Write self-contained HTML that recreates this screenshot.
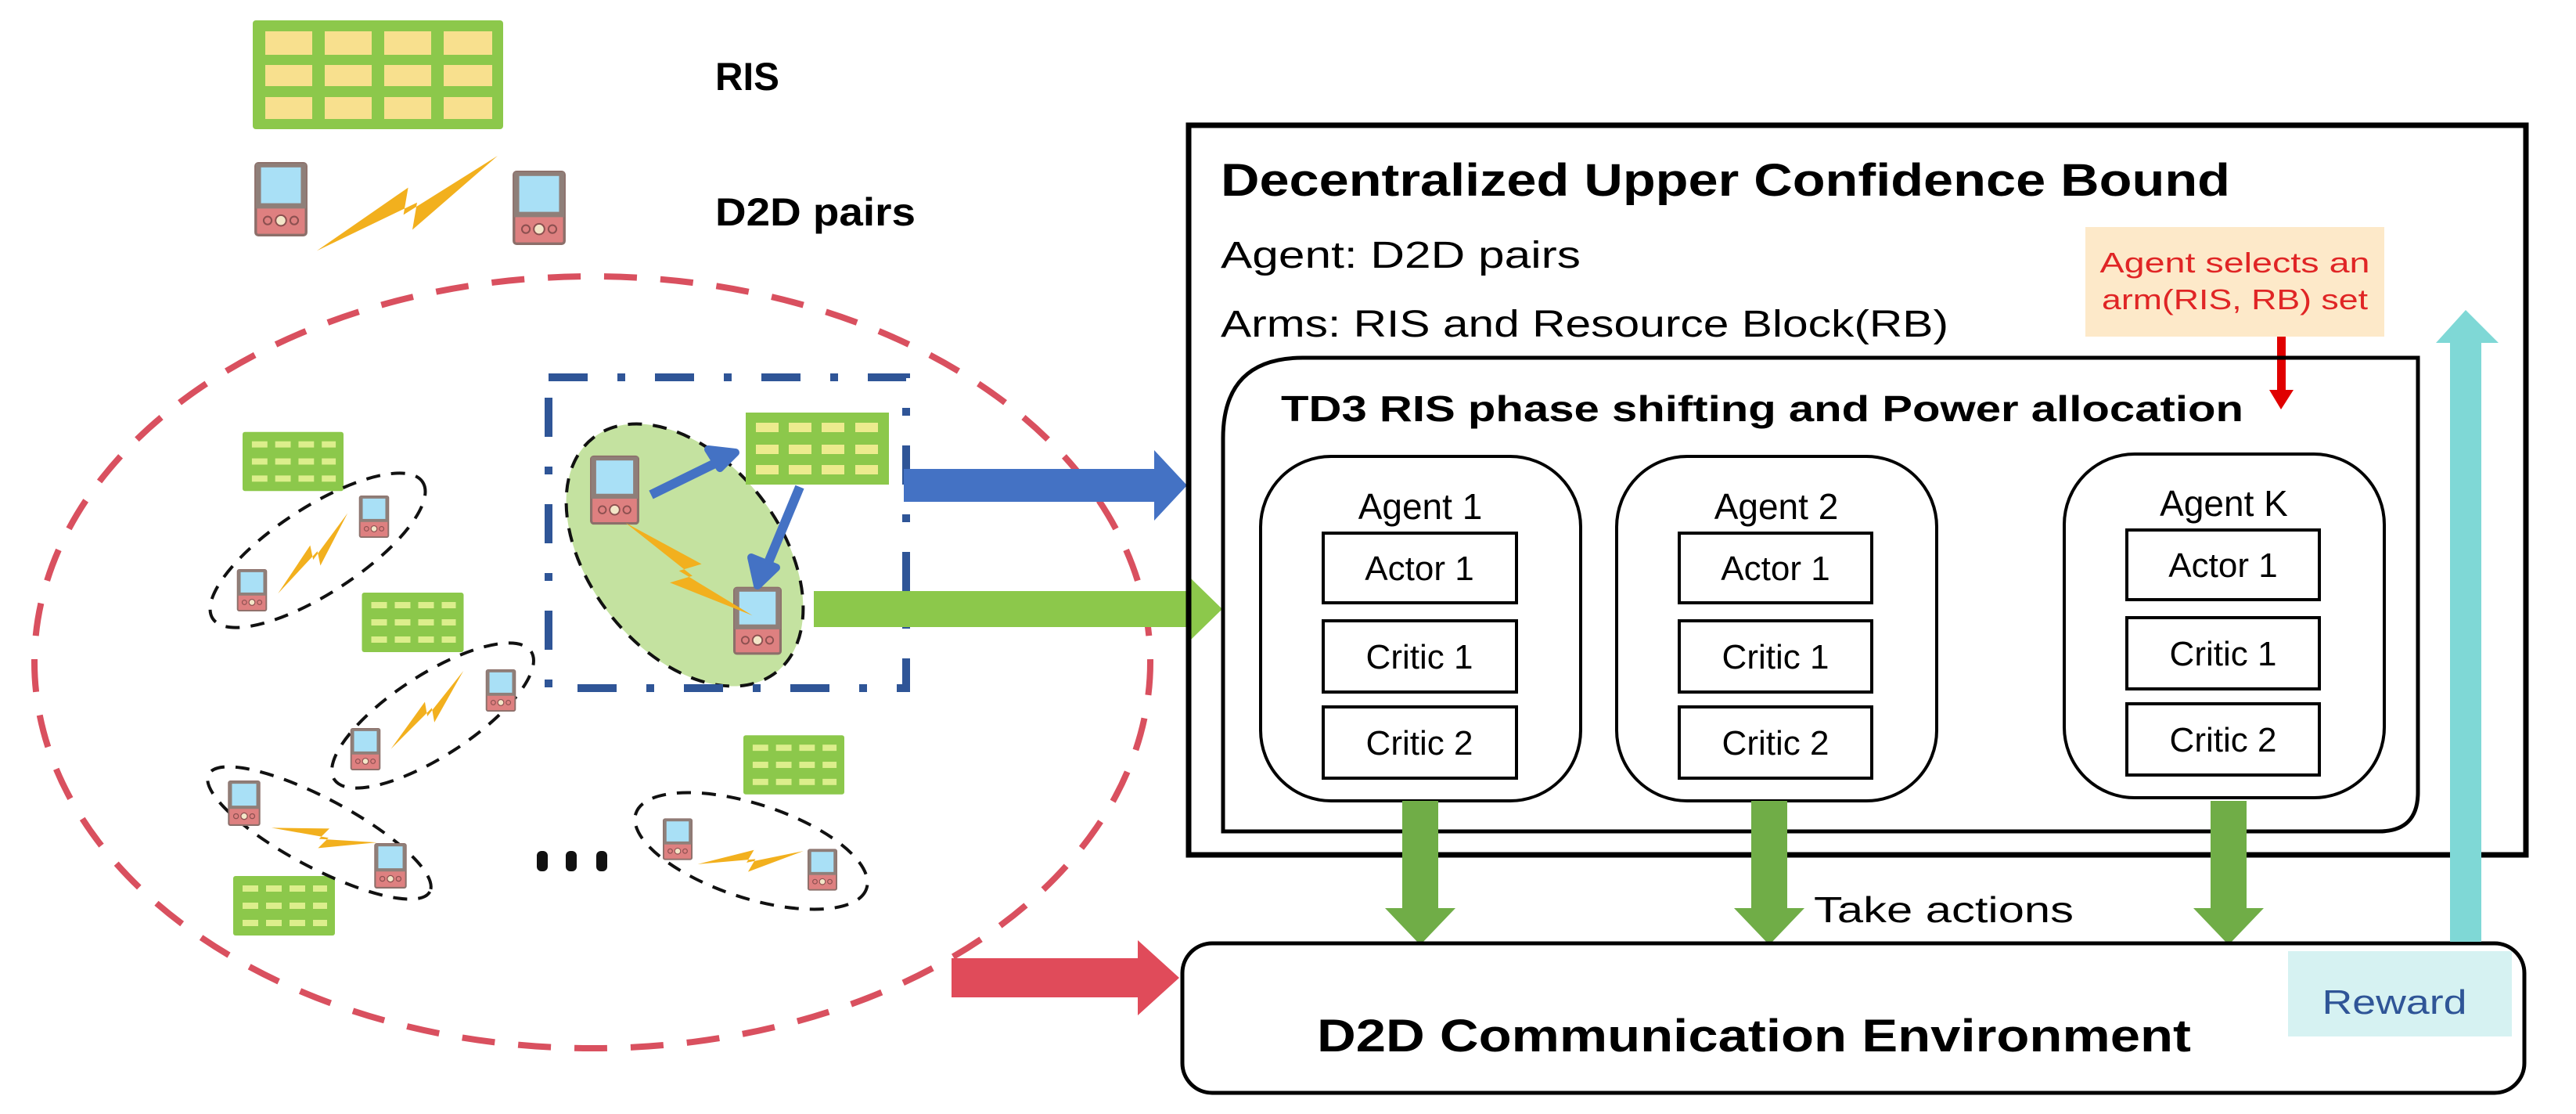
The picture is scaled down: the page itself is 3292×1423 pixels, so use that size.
<!DOCTYPE html>
<html><head><meta charset="utf-8"><style>
html,body{margin:0;padding:0;background:#fff;}
svg{display:block;}
text{font-family:"Liberation Sans",sans-serif;}
</style></head><body>
<svg width="3292" height="1423" viewBox="0 0 3292 1423" xmlns="http://www.w3.org/2000/svg">
<defs>
<symbol id="ph" viewBox="0 0 40 56">
<rect x="1" y="1" width="38" height="54" rx="2" fill="#de8080" stroke="#8c6f6a" stroke-width="2"/>
<rect x="1" y="1" width="38" height="34" fill="#8f7f79"/>
<rect x="5" y="4" width="30" height="27" fill="#a9e0f6"/>
<circle cx="20" cy="44" r="4" fill="#f3e6c8" stroke="#8c5050" stroke-width="1.2"/>
<circle cx="10" cy="44" r="3" fill="none" stroke="#8c5050" stroke-width="1.2"/>
<circle cx="30" cy="44" r="3" fill="none" stroke="#8c5050" stroke-width="1.2"/>
</symbol>
<symbol id="risS" viewBox="0 0 130 76">
<rect x="0" y="0" width="130" height="76" rx="3" fill="#8cc84b"/>
<g fill="#dcee8c">
<rect x="12" y="12" width="20" height="8"/><rect x="42" y="12" width="20" height="8"/><rect x="72" y="12" width="20" height="8"/><rect x="102" y="12" width="18" height="8"/>
<rect x="12" y="34" width="20" height="8"/><rect x="42" y="34" width="20" height="8"/><rect x="72" y="34" width="20" height="8"/><rect x="102" y="34" width="18" height="8"/>
<rect x="12" y="56" width="20" height="8"/><rect x="42" y="56" width="20" height="8"/><rect x="72" y="56" width="20" height="8"/><rect x="102" y="56" width="18" height="8"/>
</g>
</symbol>
<polygon id="bolt" points="0,12 52,-7 47,4 100,-13 50,11 55,0" fill="#f2b01e"/>
</defs>

<!-- legend -->
<rect x="323" y="26" width="320" height="139" rx="4" fill="#8cc84b"/>
<g fill="#f8e08e">
<rect x="339" y="40" width="60" height="30"/><rect x="415" y="40" width="60" height="30"/><rect x="491" y="40" width="60" height="30"/><rect x="567" y="40" width="62" height="30"/>
<rect x="339" y="83" width="60" height="27"/><rect x="415" y="83" width="60" height="27"/><rect x="491" y="83" width="60" height="27"/><rect x="567" y="83" width="62" height="27"/>
<rect x="339" y="124" width="60" height="28"/><rect x="415" y="124" width="60" height="28"/><rect x="491" y="124" width="60" height="28"/><rect x="567" y="124" width="62" height="28"/>
</g>
<text x="914" y="115" font-size="50" font-weight="bold" textLength="82" lengthAdjust="spacingAndGlyphs">RIS</text>
<use href="#ph" x="323" y="207" width="72" height="95"/>
<use href="#ph" x="653" y="218" width="72" height="95"/>
<use href="#bolt" transform="translate(398,285) rotate(-11) scale(2.5,3)"/>
<text x="914" y="288" font-size="50" font-weight="bold" textLength="256" lengthAdjust="spacingAndGlyphs">D2D pairs</text>

<!-- red dashed ellipse -->
<ellipse cx="757" cy="846" rx="713" ry="493" fill="none" stroke="#d9505f" stroke-width="8" stroke-dasharray="42,30"/>

<!-- small RIS -->
<use href="#risS" x="310" y="551" width="129" height="77"/>
<use href="#risS" x="462" y="757" width="131" height="76"/>
<use href="#risS" x="950" y="939" width="129" height="76"/>
<use href="#risS" x="298" y="1119" width="130" height="76"/>

<!-- small pairs -->
<g fill="none" stroke="#111" stroke-width="4" stroke-dasharray="18,14">
<ellipse cx="406" cy="703" rx="160" ry="55" transform="rotate(-33 406 703)"/>
<ellipse cx="553" cy="914" rx="150" ry="52" transform="rotate(-33 553 914)"/>
<ellipse cx="408" cy="1064" rx="160" ry="44" transform="rotate(28 408 1064)"/>
<ellipse cx="960" cy="1087" rx="155" ry="60" transform="rotate(18 960 1087)"/>
</g>
<use href="#ph" x="302" y="727" width="40" height="54"/>
<use href="#ph" x="458" y="633" width="40" height="54"/>
<use href="#bolt" transform="translate(345,742) rotate(-32) scale(1.3,1.6)"/>
<use href="#ph" x="447" y="930" width="40" height="54"/>
<use href="#ph" x="620" y="855" width="40" height="54"/>
<use href="#bolt" transform="translate(490,940) rotate(-30) scale(1.3,1.6)"/>
<use href="#ph" x="291" y="997" width="42" height="58"/>
<use href="#ph" x="477" y="1077" width="44" height="58"/>
<use href="#bolt" transform="translate(355,1040) rotate(25) scale(1.3,1.6)"/>
<use href="#ph" x="847" y="1043" width="38" height="58"/>
<use href="#ph" x="1032" y="1082" width="38" height="58"/>
<use href="#bolt" transform="translate(895,1085) rotate(10) scale(1.3,1.6)"/>
<g fill="#111"><rect x="686" y="1087" width="14" height="26" rx="6"/><rect x="723" y="1087" width="14" height="26" rx="6"/><rect x="762" y="1087" width="14" height="26" rx="6"/></g>

<!-- highlighted pair -->
<ellipse cx="875" cy="709" rx="190" ry="122" transform="rotate(52 875 709)" fill="#c4e2a0" stroke="#111" stroke-width="4" stroke-dasharray="18,14"/>
<rect x="953" y="527" width="183" height="92" fill="#8cc84b"/>
<g fill="#eceb8e">
<rect x="966" y="540" width="29" height="12"/><rect x="1008" y="540" width="29" height="12"/><rect x="1050" y="540" width="29" height="12"/><rect x="1093" y="540" width="29" height="12"/>
<rect x="966" y="568" width="29" height="12"/><rect x="1008" y="568" width="29" height="12"/><rect x="1050" y="568" width="29" height="12"/><rect x="1093" y="568" width="29" height="12"/>
<rect x="966" y="594" width="29" height="12"/><rect x="1008" y="594" width="29" height="12"/><rect x="1050" y="594" width="29" height="12"/><rect x="1093" y="594" width="29" height="12"/>
</g>
<use href="#ph" x="754" y="578" width="63" height="96"/>
<use href="#ph" x="937" y="748" width="62" height="90"/>
<use href="#bolt" transform="translate(825,650) rotate(55) scale(1.9,2.6)"/>
<g stroke="#4472c4" stroke-width="12" fill="#4472c4">
<line x1="832" y1="632" x2="930" y2="584"/>
<line x1="1022" y1="622" x2="973" y2="740"/>
</g>
<polygon points="940,578 905,574 920,598" fill="#4472c4" stroke="#4472c4" stroke-width="10" stroke-linejoin="round"/>
<polygon points="968,748 960,712 992,725" fill="#4472c4" stroke="#4472c4" stroke-width="10" stroke-linejoin="round"/>
<rect x="701" y="482" width="457" height="397" fill="none" stroke="#2f5597" stroke-width="10" stroke-dasharray="50,38,10,38"/>

<!-- left arrows -->
<polygon points="1155,599 1475,599 1475,575 1517,620 1475,665 1475,641 1155,641" fill="#4472c4"/>
<polygon points="1040,755 1522,755 1522,739 1562,778 1522,817 1522,801 1040,801" fill="#8cc84b"/>
<polygon points="1216,1224 1454,1224 1454,1201 1507,1249 1454,1297 1454,1274 1216,1274" fill="#e04b5a"/>

<!-- outer box -->
<rect x="1519" y="160" width="1709" height="932" fill="none" stroke="#000" stroke-width="7"/>
<text x="1560" y="250" font-size="58" font-weight="bold" textLength="1290" lengthAdjust="spacingAndGlyphs">Decentralized Upper Confidence Bound</text>
<text x="1560" y="342" font-size="48" textLength="460" lengthAdjust="spacingAndGlyphs">Agent: D2D pairs</text>
<text x="1560" y="430" font-size="48" textLength="930" lengthAdjust="spacingAndGlyphs">Arms: RIS and Resource Block(RB)</text>
<rect x="2665" y="290" width="382" height="140" fill="#fde9c9"/>
<text x="2856" y="348" font-size="36" fill="#e02525" text-anchor="middle" textLength="345" lengthAdjust="spacingAndGlyphs">Agent selects an</text>
<text x="2856" y="395" font-size="36" fill="#e02525" text-anchor="middle" textLength="340" lengthAdjust="spacingAndGlyphs">arm(RIS, RB) set</text>
<rect x="2910" y="430" width="11" height="72" fill="#e00000"/>
<polygon points="2900,498 2931,498 2915,523" fill="#e00000"/>

<!-- TD3 box -->
<path d="M1563,1062 L1563,560 Q1563,457 1665,457 L3090,457 L3090,1012 Q3090,1062 3040,1062 Z" fill="none" stroke="#000" stroke-width="5"/>
<text x="1637" y="538" font-size="46" font-weight="bold" textLength="1230" lengthAdjust="spacingAndGlyphs">TD3 RIS phase shifting and Power allocation</text>

<g fill="none" stroke="#000" stroke-width="4">
<rect x="1611" y="583" width="409" height="440" rx="90"/>
<rect x="2066" y="583" width="409" height="440" rx="90"/>
<rect x="2638" y="580" width="409" height="439" rx="90"/>
</g>
<g font-size="46" text-anchor="middle">
<text x="1815" y="663">Agent 1</text>
<text x="2270" y="663">Agent 2</text>
<text x="2842" y="659">Agent K</text>
</g>
<g fill="none" stroke="#000" stroke-width="4">
<rect x="1691" y="681" width="247" height="89"/><rect x="1691" y="793" width="247" height="91"/><rect x="1691" y="903" width="247" height="91"/>
<rect x="2146" y="681" width="246" height="89"/><rect x="2146" y="793" width="246" height="91"/><rect x="2146" y="903" width="246" height="91"/>
<rect x="2718" y="677" width="246" height="89"/><rect x="2718" y="789" width="246" height="91"/><rect x="2718" y="899" width="246" height="91"/>
</g>
<g font-size="44" text-anchor="middle">
<text x="1814" y="741">Actor 1</text><text x="1814" y="854">Critic 1</text><text x="1814" y="964">Critic 2</text>
<text x="2269" y="741">Actor 1</text><text x="2269" y="854">Critic 1</text><text x="2269" y="964">Critic 2</text>
<text x="2841" y="737">Actor 1</text><text x="2841" y="850">Critic 1</text><text x="2841" y="960">Critic 2</text>
</g>

<!-- green down arrows -->
<g fill="#70ad47">
<polygon points="1792,1023 1838,1023 1838,1160 1860,1160 1815,1207 1770,1160 1792,1160"/>
<polygon points="2238,1023 2284,1023 2284,1160 2306,1160 2261,1207 2216,1160 2238,1160"/>
<polygon points="2825,1023 2871,1023 2871,1160 2893,1160 2848,1207 2803,1160 2825,1160"/>
</g>
<text x="2318" y="1178" font-size="46" textLength="332" lengthAdjust="spacingAndGlyphs">Take actions</text>

<!-- env box -->
<rect x="1511" y="1205" width="1715" height="191" rx="38" fill="none" stroke="#000" stroke-width="5"/>
<rect x="2924" y="1215" width="286" height="109" fill="#d6f2f2"/>
<text x="3060" y="1295" font-size="44" fill="#2f5597" text-anchor="middle" textLength="185" lengthAdjust="spacingAndGlyphs">Reward</text>
<text x="1683" y="1343" font-size="58" font-weight="bold" textLength="1117" lengthAdjust="spacingAndGlyphs">D2D Communication Environment</text>

<!-- cyan reward arrow -->
<polygon points="3131,1203 3171,1203 3171,438 3193,438 3151,396 3113,438 3131,438" fill="#7fd8d6"/>
</svg>
</body></html>
